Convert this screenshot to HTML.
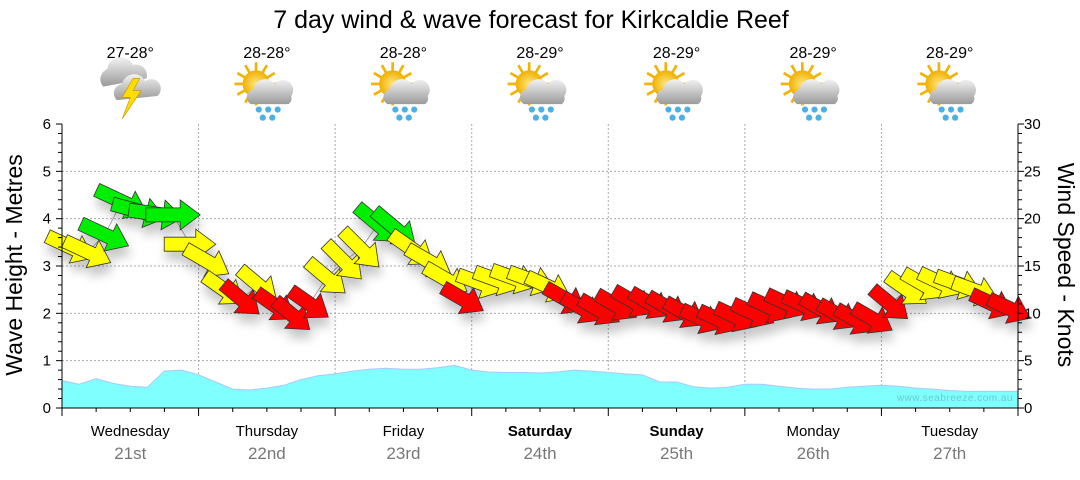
<!DOCTYPE html>
<html><head><meta charset="utf-8"><style>
body{margin:0;background:#fff;font-family:"Liberation Sans",sans-serif;}
svg text{font-family:"Liberation Sans","DejaVu Sans",sans-serif;}
</style></head><body>
<svg id="chart" width="1080" height="475" viewBox="0 0 1080 475" xmlns="http://www.w3.org/2000/svg">
<defs>
<filter id="sh" x="-50%" y="-50%" width="200%" height="250%"><feDropShadow dx="2" dy="9" stdDeviation="5" flood-color="#000" flood-opacity="0.22"/></filter>
<radialGradient id="sunG"><stop offset="0" stop-color="#ffe680"/><stop offset="1" stop-color="#f0b000"/></radialGradient>
<linearGradient id="cloudG" x1="0" y1="0" x2="0" y2="1"><stop offset="0" stop-color="#f2f2f2"/><stop offset="1" stop-color="#9a9a9a"/></linearGradient>
</defs>
<text x="531" y="28" font-size="25" text-anchor="middle">7 day wind &amp; wave forecast for Kirkcaldie Reef</text>
<g id="grid"></g>
<g id="waves"></g>
<g id="links"></g>
<g id="arrows" filter="url(#sh)"></g>
<g id="axes"></g>
<g id="icons"></g>
<text transform="translate(22,265) rotate(-90)" font-size="23" text-anchor="middle">Wave Height - Metres</text>
<text transform="translate(1058,265) rotate(90)" font-size="23" text-anchor="middle">Wind Speed - Knots</text>
<text x="1013" y="401" font-size="10" fill="#66cccc" text-anchor="end" letter-spacing="0.5">www.seabreeze.com.au</text>
</svg>
<script>
const days=["Wednesday","Thursday","Friday","Saturday","Sunday","Monday","Tuesday"];
const dates=["21st","22nd","23rd","24th","25th","26th","27th"];
const boldDays=[false,false,false,true,true,false,false];
const temps=["27-28°","28-28°","28-28°","28-29°","28-29°","28-29°","28-29°"];
const iconTypes=["storm","rain","rain","rain","rain","rain","rain"];
const windSpeed=[17.0,16.5,18.3,21.8,20.8,20.5,20.4,17.3,
15.5,12.5,11.5,13.0,10.8,9.8,11.0,13.8,
15.5,16.8,19.4,19.0,16.8,15.5,13.6,11.5,
13.2,13.5,13.7,13.5,12.8,11.5,10.5,10.3,
10.8,11.2,11.0,10.6,10.0,9.4,9.3,9.6,
10.0,10.6,11.0,10.8,10.4,9.8,9.3,9.4,
11.0,12.5,13.0,13.2,13.1,12.4,11.0,10.5];
const windDir=[295,295,295,295,285,278,270,270,
300,305,310,310,305,310,305,310,
315,315,310,310,305,300,300,300,
290,290,290,290,295,300,300,300,
300,300,300,300,300,295,295,295,
295,295,295,295,300,300,300,300,
310,305,300,295,290,290,295,295];
const waveHeight=[0.58,0.5,0.62,0.52,0.46,0.44,0.78,0.8,0.7,0.55,0.4,0.38,0.42,0.48,0.6,0.68,0.72,0.78,0.82,0.84,0.82,0.82,0.85,0.9,0.8,0.76,0.75,0.75,0.74,0.76,0.8,0.78,0.75,0.72,0.7,0.55,0.55,0.45,0.42,0.44,0.5,0.5,0.46,0.42,0.4,0.4,0.44,0.46,0.48,0.46,0.42,0.4,0.37,0.35,0.35,0.35,0.35];
const leftTicks=[0,1,2,3,4,5,6];
const rightTicks=[0,5,10,15,20,25,30];

const NS="http://www.w3.org/2000/svg";
const X0=62,X1=1018,Y0=408,Y1=124,DW=(X1-X0)/7;
const xT=h=>X0+h/168*(X1-X0);
const yM=m=>Y0-m/6*(Y0-Y1);
const yK=k=>Y0-k/30*(Y0-Y1);
function mk(tag,attrs,parent){const e=document.createElementNS(NS,tag);for(const k in attrs)e.setAttribute(k,attrs[k]);parent.appendChild(e);return e;}
const grid=document.getElementById('grid'),axes=document.getElementById('axes');
leftTicks.forEach(v=>{if(v>0&&v<6){const l=mk('line',{x1:X0,x2:X1,y1:yM(v),y2:yM(v),stroke:'#aaa','stroke-dasharray':'2,2'},grid);

}});
for(let d=1;d<7;d++){const l=mk('line',{x1:X0+d*DW,x2:X0+d*DW,y1:Y1,y2:Y0,stroke:'#aaa','stroke-dasharray':'2,2'},grid);

}
const wg=document.getElementById('waves');
const nW=Math.min(waveHeight.length,57);
let pd=`M${xT(0)},${Y0}`;for(let i=0;i<nW;i++){pd+=` L${xT(i*3).toFixed(1)},${yM(waveHeight[i]).toFixed(1)}`;}
pd+=` L${xT((nW-1)*3)},${Y0} Z`;
const wa=mk('path',{d:pd,fill:'#80ffff',stroke:'#a8c8ff','stroke-width':1},wg);


const ag=document.getElementById('arrows'),lg=document.getElementById('links');
const colorFor=s=>s>=18?'#00ee00':(s>=12?'#ffff00':'#ff0000');
let lp='';
windSpeed.forEach((s,i)=>{const cx=xT(i*3+1.5),cy=yK(s);lp+=(i?' L':'M')+cx.toFixed(1)+','+cy.toFixed(1);});
const ln=mk('path',{d:lp,fill:'none',stroke:'#999','stroke-width':0.8},lg);


windSpeed.forEach((s,i)=>{
 const cx=xT(i*3+1.5),cy=yK(s);
 const ang=(windDir[i]-270);
 const L=36+s*0.9,bw=7,hw=15,hl=20;
 const pts=[[-L/2,-bw],[L/2-hl,-bw],[L/2-hl,-hw],[L/2,0],[L/2-hl,hw],[L/2-hl,bw],[-L/2,bw]].map(p=>p.join(',')).join(' ');
 const a=mk('polygon',{points:pts,fill:colorFor(s),stroke:'#333','stroke-width':0.8,transform:`translate(${cx.toFixed(1)},${cy.toFixed(1)}) rotate(${ang})`},ag);
 
 
});
mk('line',{x1:X0,x2:X0,y1:Y1,y2:Y0,stroke:'#000'},axes);
mk('line',{x1:X1,x2:X1,y1:Y1,y2:Y0,stroke:'#000'},axes);
mk('line',{x1:X0,x2:X1,y1:Y0,y2:Y0,stroke:'#000'},axes);
for(let m=0;m<=30;m++){const y=yM(m*0.2);mk('line',{x1:X0-(m%5?4:6),x2:X0,y1:y,y2:y,stroke:'#000'},axes);}
for(let k=0;k<=30;k++){const y=yK(k);mk('line',{x1:X1,x2:X1+(k%5?4:6),y1:y,y2:y,stroke:'#000'},axes);}
for(let q=0;q<=28;q++){const x=X0+q*DW/4;mk('line',{x1:x,x2:x,y1:Y0,y2:Y0+(q%4?4:8),stroke:'#000'},axes);}
leftTicks.forEach(v=>{const t=mk('text',{x:X0-11,y:yM(v)+5,'font-size':15,'text-anchor':'end'},axes);t.textContent=v;

});
rightTicks.forEach(v=>{const t=mk('text',{x:X1+6,y:yK(v)+5,'font-size':15},axes);t.textContent=v;

});
days.forEach((d,i)=>{const cx=X0+(i+0.5)*DW;
 const t=mk('text',{x:cx,y:436,'font-size':15,'text-anchor':'middle','font-weight':boldDays[i]?'bold':'normal'},axes);t.textContent=d;
 
 
 const t2=mk('text',{x:cx,y:459,'font-size':17,'text-anchor':'middle',fill:'#777'},axes);t2.textContent=dates[i];
 
 
});
const ig=document.getElementById('icons');
temps.forEach((tp,i)=>{const cx=X0+(i+0.5)*DW;
 const t=mk('text',{x:cx,y:58,'font-size':16,'text-anchor':'middle'},ig);t.textContent=tp;
 
 
 const g=mk('g',{transform:`translate(${cx},92) scale(1.35) translate(${-cx},-92)`},ig);
 
 
 const cy0=88;
 if(iconTypes[i]==='storm'){
  mk('path',{d:`M${cx-20},${cy0} a8 8 0 0 1 3,-13 a10 10 0 0 1 19,-3 a8 8 0 0 1 10,10 Z`,fill:'url(#cloudG)'},g);
  mk('path',{d:`M${cx-10},${cy0+10} a7 7 0 0 1 4,-12 a9 9 0 0 1 17,-2 a7 7 0 0 1 9,11 Z`,fill:'url(#cloudG)'},g);
  mk('polygon',{points:`${cx+2},${cy0-6} ${cx-6},${cy0+8} ${cx},${cy0+8} ${cx-6},${cy0+24} ${cx+8},${cy0+3} ${cx+2},${cy0+3} ${cx+7},${cy0-6}`,fill:'#ffdd00',stroke:'#c90','stroke-width':0.5},g);
 }else{
  const sx=cx-8,sy=86;
  for(let r=0;r<12;r++){const a=r*Math.PI/6;mk('line',{x1:sx+Math.cos(a)*8,y1:sy+Math.sin(a)*8,x2:sx+Math.cos(a)*16,y2:sy+Math.sin(a)*16,stroke:'#f3b300','stroke-width':2},g);}
  mk('circle',{cx:sx,cy:sy,r:10,fill:'url(#sunG)'},g);
  mk('path',{d:`M${cx-12},${sy+15} a6 6 0 0 1 2,-11 a9 9 0 0 1 16,-4 a7 7 0 0 1 12,9 a5 5 0 0 1 -2,6 Z`,fill:'url(#cloudG)'},g);
  [[-6,19],[1,19],[8,19],[-3,25],[4,25]].forEach(p=>mk('circle',{cx:cx+p[0],cy:sy+p[1],r:2.3,fill:'#4ab0e8'},g));
 }
});
</script>
</body></html>
